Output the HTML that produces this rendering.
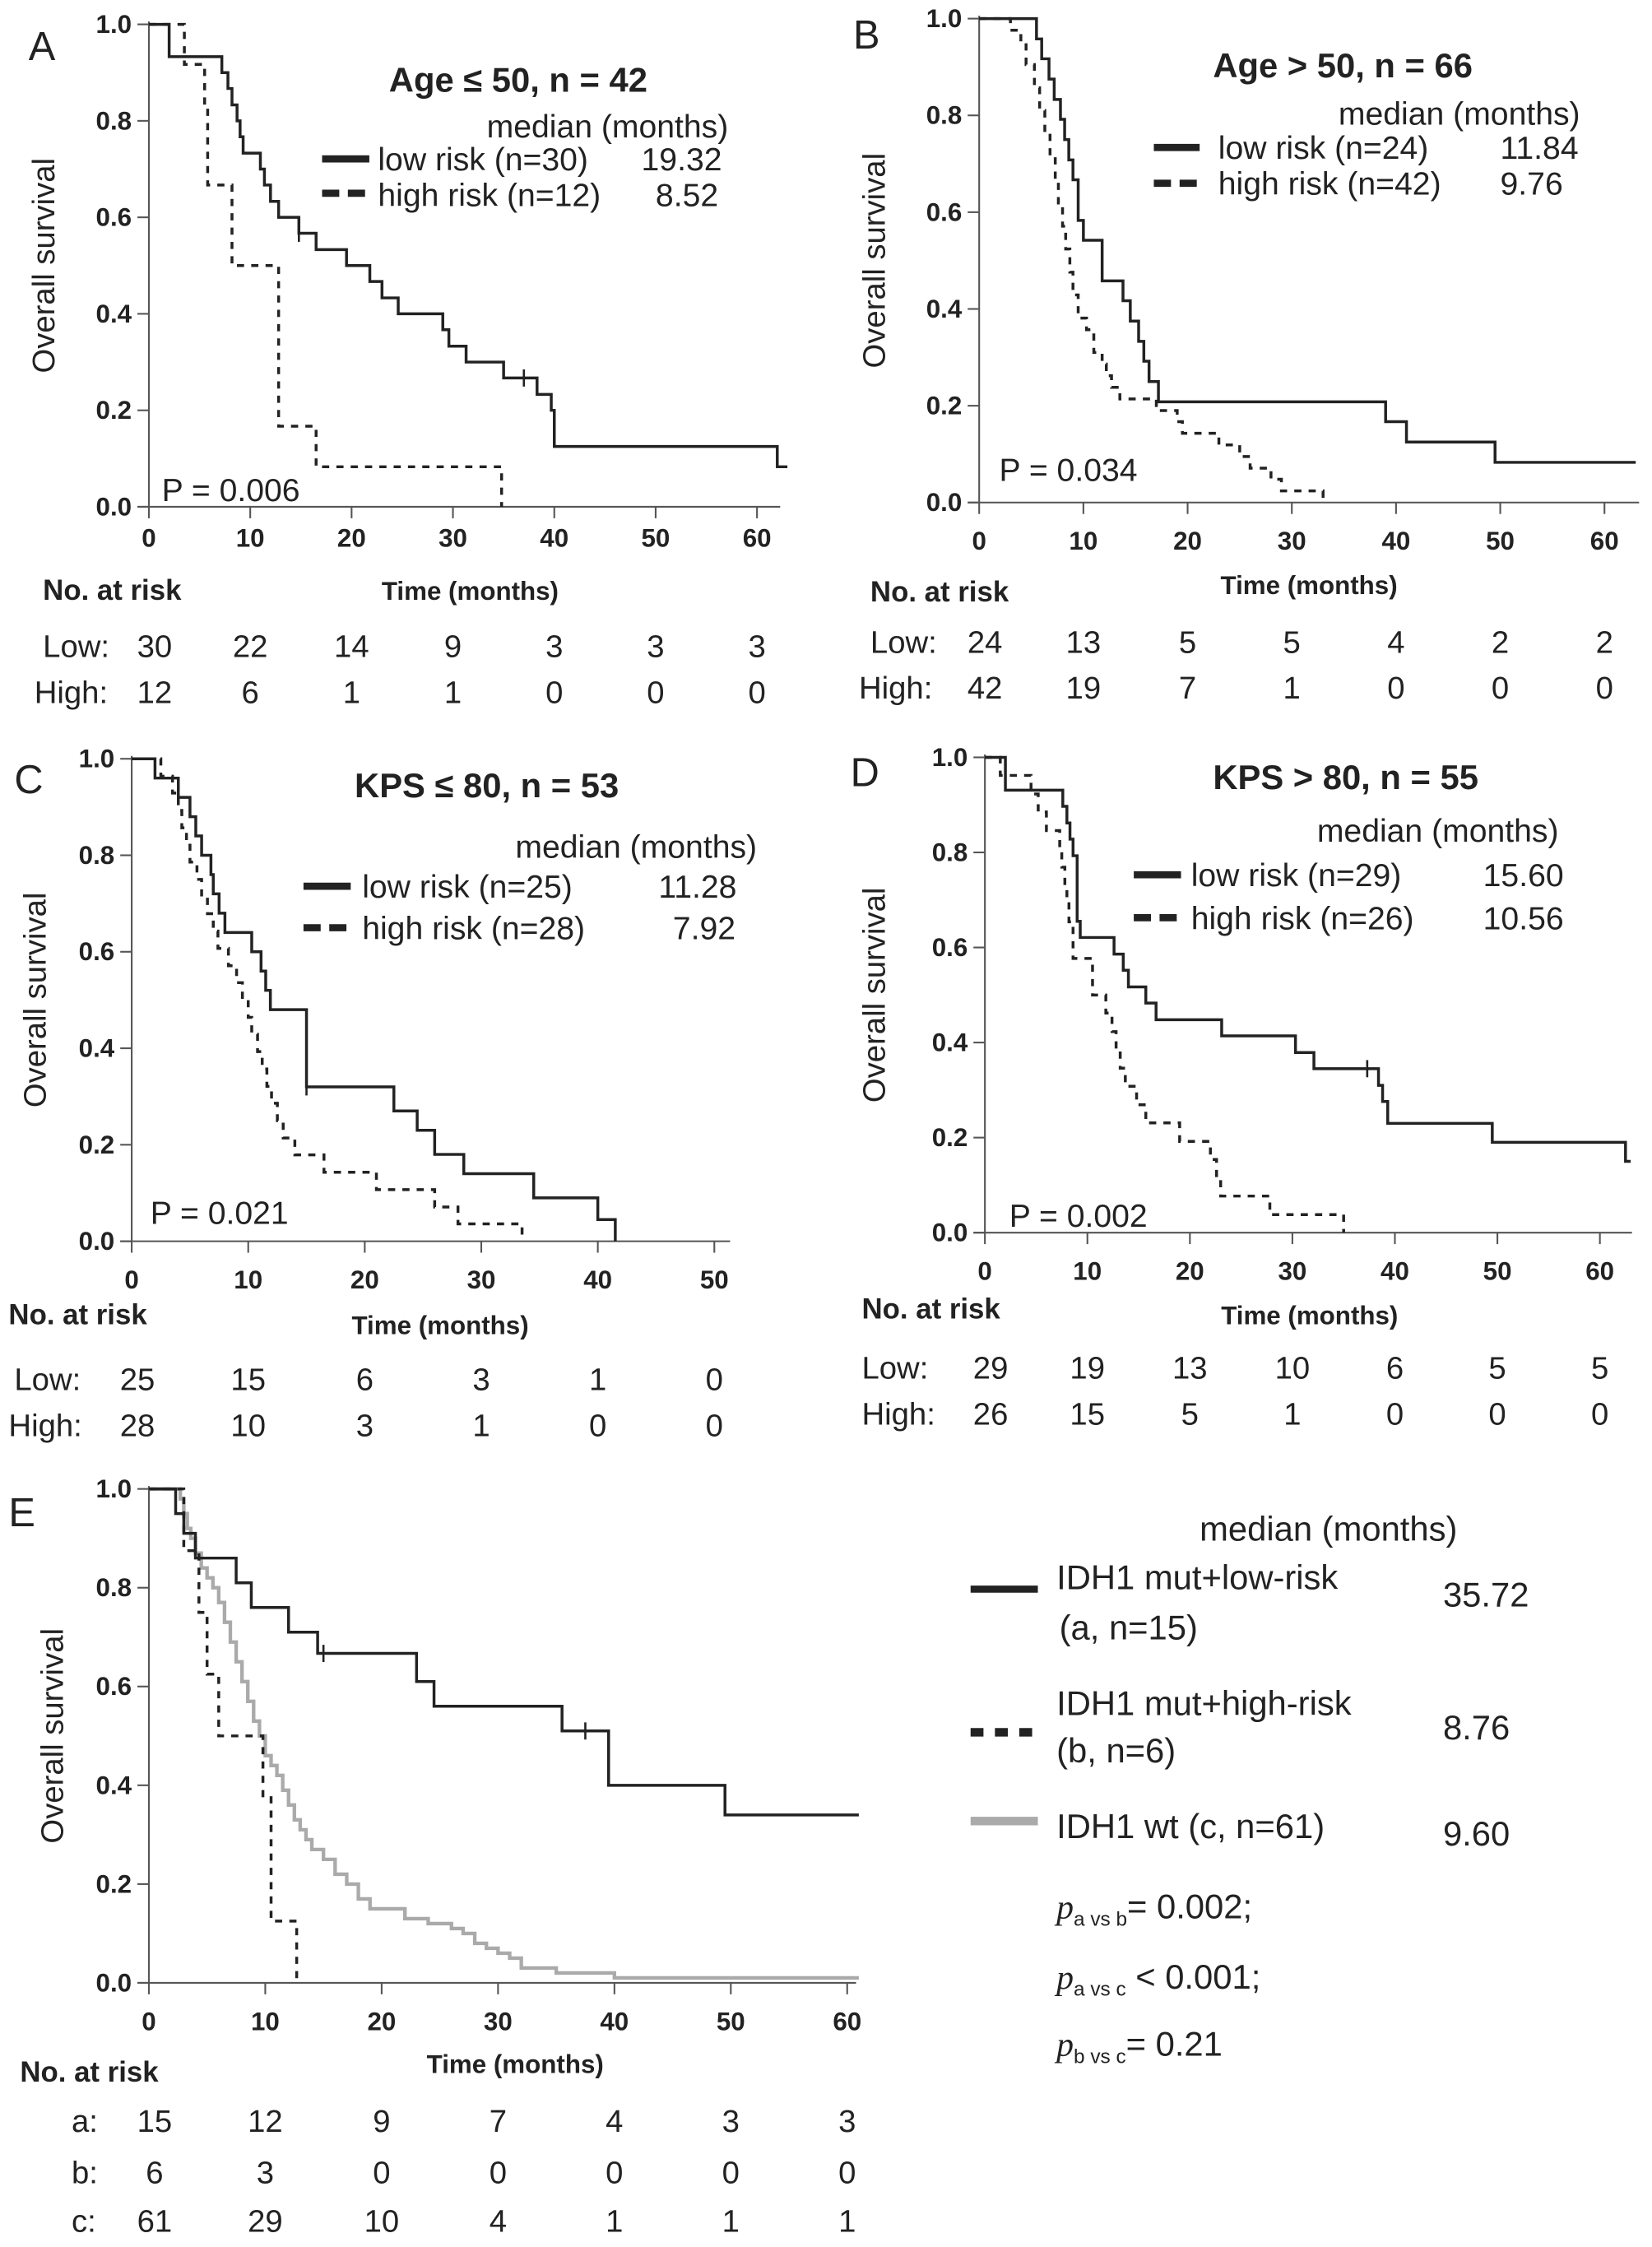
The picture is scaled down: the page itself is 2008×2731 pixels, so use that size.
<!DOCTYPE html>
<html><head><meta charset="utf-8">
<style>
html,body{margin:0;padding:0;background:#fff;}
svg{display:block;}
text{font-family:"Liberation Sans",sans-serif;fill:#222;}
.tick{font-size:18px;font-weight:bold;}
.ttl{font-family:"Liberation Sans Narrow","Liberation Sans",sans-serif;font-weight:bold;font-size:24px;}
.lg{font-size:22.5px;}
.rk{font-size:22px;}
.hd{font-size:18px;font-weight:bold;}
.yt{font-size:22px;}
.let{font-size:28px;}
</style></head>
<body>
<svg id="fig" width="2008" height="2731" viewBox="0 0 1154 1569.5" preserveAspectRatio="none">
<g id="static">
<text class="let" x="20" y="42">A</text>
<text class="ttl" x="362" y="64" text-anchor="middle">Age ≤ 50, n = 42</text>
<text class="lg" x="340" y="96">median (months)</text>
<line x1="225" y1="111" x2="258" y2="111" stroke="#222" stroke-width="5"/>
<text class="lg" x="264" y="119">low risk (n=30)</text>
<text class="lg" x="448" y="119">19.32</text>
<line x1="225" y1="135" x2="258" y2="135" stroke="#222" stroke-width="5" stroke-dasharray="12,6"/>
<text class="lg" x="264" y="144">high risk (n=12)</text>
<text class="lg" x="458" y="144">8.52</text>
<text class="lg" x="113" y="350">P = 0.006</text>

<text class="let" x="596" y="34">B</text>
<text class="ttl" x="938" y="54" text-anchor="middle">Age &gt; 50, n = 66</text>
<text class="lg" x="935" y="87">median (months)</text>
<line x1="806" y1="103" x2="838" y2="103" stroke="#222" stroke-width="5"/>
<text class="lg" x="851" y="111">low risk (n=24)</text>
<text class="lg" x="1048" y="111">11.84</text>
<line x1="806" y1="128" x2="838" y2="128" stroke="#222" stroke-width="5" stroke-dasharray="12,6"/>
<text class="lg" x="851" y="136">high risk (n=42)</text>
<text class="lg" x="1048" y="136">9.76</text>
<text class="lg" x="698" y="336">P = 0.034</text>

<text class="let" x="10" y="554">C</text>
<text class="ttl" x="340" y="557" text-anchor="middle">KPS ≤ 80, n = 53</text>
<text class="lg" x="360" y="599">median (months)</text>
<line x1="212" y1="619" x2="245" y2="619" stroke="#222" stroke-width="5"/>
<text class="lg" x="253" y="627">low risk (n=25)</text>
<text class="lg" x="460" y="627">11.28</text>
<line x1="212" y1="648" x2="245" y2="648" stroke="#222" stroke-width="5" stroke-dasharray="12,6"/>
<text class="lg" x="253" y="656">high risk (n=28)</text>
<text class="lg" x="470" y="656">7.92</text>
<text class="lg" x="105" y="855">P = 0.021</text>

<text class="let" x="594" y="549">D</text>
<text class="ttl" x="940" y="551" text-anchor="middle">KPS &gt; 80, n = 55</text>
<text class="lg" x="920" y="588">median (months)</text>
<line x1="792" y1="611" x2="825" y2="611" stroke="#222" stroke-width="5"/>
<text class="lg" x="832" y="619">low risk (n=29)</text>
<text class="lg" x="1036" y="619">15.60</text>
<line x1="792" y1="641" x2="825" y2="641" stroke="#222" stroke-width="5" stroke-dasharray="12,6"/>
<text class="lg" x="832" y="649">high risk (n=26)</text>
<text class="lg" x="1036" y="649">10.56</text>
<text class="lg" x="705" y="857">P = 0.002</text>

<text class="let" x="6" y="1066">E</text>
<text class="lg" x="838" y="1076" style="font-size:24px">median (months)</text>
<line x1="678" y1="1110" x2="725" y2="1110" stroke="#222" stroke-width="5"/>
<text class="lg" x="738" y="1110" style="font-size:24px">IDH1 mut+low-risk</text>
<text class="lg" x="740" y="1145" style="font-size:24px">(a, n=15)</text>
<text class="lg" x="1008" y="1122" style="font-size:24px">35.72</text>
<line x1="678" y1="1210" x2="725" y2="1210" stroke="#222" stroke-width="6" stroke-dasharray="9,8"/>
<text class="lg" x="738" y="1198" style="font-size:24px">IDH1 mut+high-risk</text>
<text class="lg" x="738" y="1231" style="font-size:24px">(b, n=6)</text>
<text class="lg" x="1008" y="1215" style="font-size:24px">8.76</text>
<line x1="678" y1="1272" x2="725" y2="1272" stroke="#aaa" stroke-width="6"/>
<text class="lg" x="738" y="1284" style="font-size:24px">IDH1 wt (c, n=61)</text>
<text class="lg" x="1008" y="1289" style="font-size:24px">9.60</text>
<text class="lg" x="738" y="1340" style="font-size:24px"><tspan font-style="italic" font-family="Liberation Serif">p</tspan><tspan font-size="14" dy="5">a vs b</tspan><tspan dy="-5">= 0.002;</tspan></text>
<text class="lg" x="738" y="1389" style="font-size:24px"><tspan font-style="italic" font-family="Liberation Serif">p</tspan><tspan font-size="14" dy="5">a vs c</tspan><tspan dy="-5"> &lt; 0.001;</tspan></text>
<text class="lg" x="738" y="1436" style="font-size:24px"><tspan font-style="italic" font-family="Liberation Serif">p</tspan><tspan font-size="14" dy="5">b vs c</tspan><tspan dy="-5">= 0.21</tspan></text>
</g>
</svg>
<script>
// ---- data ----
const riskTicks = [0,10,20,30,40,50,60];
const aLowRisk = [30,22,14,9,3,3,3];
const aHighRisk = [12,6,1,1,0,0,0];
const bLowRisk = [24,13,5,5,4,2,2];
const bHighRisk = [42,19,7,1,0,0,0];
const cLowRisk = [25,15,6,3,1,0];
const cHighRisk = [28,10,3,1,0,0];
const dLowRisk = [29,19,13,10,6,5,5];
const dHighRisk = [26,15,5,1,0,0,0];
const eARisk = [15,12,9,7,4,3,3];
const eBRisk = [6,3,0,0,0,0,0];
const eCRisk = [61,29,10,4,1,1,1];
const yTickLabels = ["0.0","0.2","0.4","0.6","0.8","1.0"];

const aLowT = [2,7.2,7.8,8.2,8.7,9,9.3,11,11.4,12,12.8,14.8,16.5,19.5,21.8,23,24.6,29,29.6,31.3,35,38.3,39.7,40,62];
const aLowS = [0.933,0.9,0.867,0.833,0.8,0.767,0.733,0.7,0.667,0.633,0.6,0.567,0.533,0.5,0.467,0.433,0.4,0.367,0.333,0.3,0.267,0.233,0.2,0.125,0.083];
const aHighT = [3.5,5.5,5.8,8.2,12.8,16.5,34.8];
const aHighS = [0.917,0.833,0.667,0.5,0.167,0.083,0];
const bLowT = [5.5,6,6.7,7.2,7.8,8.2,8.6,9,9.5,10,11.8,13.8,14.5,15.3,15.8,16.3,17.2,39,41,49.5];
const bLowS = [0.958,0.917,0.875,0.833,0.792,0.75,0.708,0.667,0.583,0.542,0.458,0.417,0.375,0.333,0.292,0.25,0.208,0.167,0.125,0.083];
const bHighT = [3,4,4.5,5.3,5.8,6.3,6.8,7.3,7.6,8,8.3,8.7,9,9.5,10.3,11,11.8,12.2,12.7,13.5,17,19,19.5,23,25,26,28,29,33];
const bHighS = [0.976,0.952,0.905,0.857,0.81,0.762,0.714,0.667,0.619,0.571,0.524,0.476,0.429,0.381,0.357,0.31,0.286,0.262,0.238,0.214,0.19,0.167,0.143,0.119,0.095,0.071,0.048,0.024,0];
const cLowT = [2,4,5,5.5,6,6.8,7,7.5,8,10.3,11.1,11.5,11.9,15,22.5,24.5,26,28.5,34.5,40,41.5];
const cLowS = [0.96,0.92,0.88,0.84,0.8,0.76,0.72,0.68,0.64,0.6,0.56,0.52,0.48,0.32,0.27,0.23,0.18,0.14,0.09,0.045,0];
const cHighT = [2.5,3.5,4,4.3,4.7,5,5.6,6,6.5,7,7.4,8.3,9,9.5,10,10.3,10.8,11.2,11.6,12,12.5,13,14,16.5,21,26,28,33.5];
const cHighS = [0.964,0.929,0.893,0.857,0.821,0.786,0.75,0.714,0.679,0.643,0.607,0.571,0.536,0.5,0.464,0.429,0.393,0.357,0.321,0.286,0.25,0.214,0.179,0.143,0.107,0.071,0.036,0];
const dLowT = [2,7.6,8,8.3,8.6,9,9.3,12.6,13.5,14,15.7,16.7,23.1,30.3,32.1,38.4,38.8,39.3,49.5,62.5];
const dLowS = [0.966,0.931,0.897,0.862,0.828,0.793,0.655,0.621,0.586,0.552,0.517,0.483,0.448,0.414,0.379,0.345,0.31,0.276,0.23,0.19,0.15].slice(1);
const dHighT = [1.5,4.5,5.2,6,7.3,7.5,7.8,8,8.2,8.6,10.5,11.8,12.4,12.8,13.2,13.7,14.8,15.7,19,22,22.6,23,27.8,35];
const dHighS = [0.962,0.923,0.885,0.846,0.808,0.769,0.731,0.692,0.654,0.577,0.5,0.462,0.423,0.385,0.346,0.308,0.269,0.231,0.192,0.154,0.115,0.077,0.038,0];
const eAT = [2.3,3,4,7.5,8.8,12,14.5,23,24.5,35.5,39.5,49.5];
const eAS = [0.95,0.91,0.86,0.81,0.76,0.71,0.667,0.61,0.56,0.51,0.4,0.34];
const eBT = [3,4.3,5,6,8.8,9.8,10.5,12.7];
const eBS = [0.875,0.75,0.625,0.5,0.5,0.375,0.125,0];
const eCT = [2.7,3,3.3,3.6,4,4.5,5,5.5,6,6.5,7,7.5,8,8.5,9,9.5,10,10.5,11,11.5,12,12.5,13,13.5,14,15,16,17,18,19,22,24,26,27,28,29,30,31,32,35,40];
const eCS = [0.98,0.95,0.92,0.9,0.87,0.84,0.82,0.8,0.77,0.73,0.69,0.65,0.61,0.57,0.53,0.5,0.46,0.44,0.42,0.39,0.36,0.33,0.31,0.29,0.27,0.25,0.22,0.2,0.17,0.15,0.13,0.12,0.11,0.1,0.08,0.07,0.06,0.05,0.03,0.02,0.01];

// ---- layout ----
const NS = "http://www.w3.org/2000/svg";
const svg = document.getElementById('fig');
function el(tag, attrs, parent){const e=document.createElementNS(NS,tag);for(const k in attrs)e.setAttribute(k,attrs[k]);(parent||svg).appendChild(e);return e;}

const panels = [
 {id:'a', x0:104, px:7.08, y1:17, y0:354, xEnd:545, xMax:60, tickY:382, ytX:38, timeY:419, riskHeadX:30, riskHeadY:419, rowY:[459,491], rowLbl:['Low:','High:'], lblX:[30,24],
  series:[{t:aLowT,s:aLowS,end:63,dash:null,col:'#222',cens:[[14.8,0.567],[37,0.267]]},{t:aHighT,s:aHighS,end:34.8,dash:'5,5',col:'#222',cens:[]}], risk:[aLowRisk,aHighRisk]},
 {id:'b', x0:684, px:7.28, y1:13, y0:351, xEnd:1145, xMax:60, tickY:384, ytX:618, timeY:415, riskHeadX:608, riskHeadY:420, rowY:[456,488], rowLbl:['Low:','High:'], lblX:[608,600],
  series:[{t:bLowT,s:bLowS,end:63,dash:null,col:'#222',cens:[]},{t:bHighT,s:bHighS,end:33,dash:'5,5',col:'#222',cens:[]}], risk:[bLowRisk,bHighRisk]},
 {id:'c', x0:92, px:8.14, y1:530, y0:867, xEnd:510, xMax:50, tickY:900, ytX:32, timeY:932, riskHeadX:6, riskHeadY:925, rowY:[971,1003], rowLbl:['Low:','High:'], lblX:[10,6],
  series:[{t:cLowT,s:cLowS,end:41.5,dash:null,col:'#222',cens:[[15,0.32]]},{t:cHighT,s:cHighS,end:33.5,dash:'5,5',col:'#222',cens:[]}], risk:[cLowRisk,cHighRisk]},
 {id:'d', x0:688, px:7.16, y1:529, y0:861, xEnd:1140, xMax:60, tickY:894, ytX:618, timeY:925, riskHeadX:602, riskHeadY:921, rowY:[963,995], rowLbl:['Low:','High:'], lblX:[602,602],
  series:[{t:dLowT,s:dLowS,end:63,dash:null,col:'#222',cens:[[37.3,0.345]]},{t:dHighT,s:dHighS,end:35,dash:'5,5',col:'#222',cens:[]}], risk:[dLowRisk,dHighRisk]},
 {id:'e', x0:104, px:8.13, y1:1040, y0:1385, xEnd:598, xMax:60, tickY:1418, ytX:44, timeY:1448, riskHeadX:14, riskHeadY:1454, rowY:[1489,1525,1559], rowLbl:['a:','b:','c:'], lblX:[50,50,50],
  series:[{t:eCT,s:eCS,end:61,dash:null,col:'#aaa',w:2.5,cens:[]},{t:eAT,s:eAS,end:61,dash:null,col:'#222',cens:[[15,0.667],[37.5,0.51]]},{t:eBT,s:eBS,end:12.7,dash:'5,5',col:'#222',cens:[]}], risk:[eARisk,eBRisk,eCRisk]}
];

panels.forEach(p=>{
  const X=t=>p.x0+t*p.px, Y=s=>p.y0-(p.y0-p.y1)*s;
  const g=el('g',{});
  
  
  const ya=el('line',{x1:p.x0,y1:p.y1-2,x2:p.x0,y2:p.y0,stroke:'#555','stroke-width':1.2},g);
  
  
  const xa=el('line',{x1:p.x0-8,y1:p.y0,x2:p.xEnd,y2:p.y0,stroke:'#555','stroke-width':1.2},g);
  
  
  yTickLabels.forEach((lb,i)=>{
    const v=i*0.2;
    el('line',{x1:p.x0-8,y1:Y(v),x2:p.x0,y2:Y(v),stroke:'#555','stroke-width':1.2},g);
    const t=el('text',{x:p.x0-12,y:Y(v)+6,'text-anchor':'end',class:'tick'},g);
    
    
    t.textContent=lb;
  });
  for(let v=0;v<=p.xMax;v+=10){
    el('line',{x1:X(v),y1:p.y0,x2:X(v),y2:p.y0+8,stroke:'#555','stroke-width':1.2},g);
    const t=el('text',{x:X(v),y:p.tickY,'text-anchor':'middle',class:'tick'},g);
    
    
    t.textContent=v;
  }
  const yt=el('text',{x:p.ytX,y:(p.y0+p.y1)/2,'text-anchor':'middle',class:'yt',transform:`rotate(-90 ${p.ytX} ${(p.y0+p.y1)/2})`},g);
  
  
  yt.textContent='Overall survival';
  const xt=el('text',{x:(p.x0+X(p.xMax))/2+12,y:p.timeY,'text-anchor':'middle',class:'tick'},g);
  
  
  xt.textContent='Time (months)';
  const rh=el('text',{x:p.riskHeadX,y:p.riskHeadY,class:'hd',style:'font-size:20px'},g);
  
  
  rh.textContent='No. at risk';
  p.series.forEach((s,si)=>{
    let d=`M${X(0)},${Y(1)}`;
    s.t.forEach((t,i)=>{d+=` H${X(t)} V${Y(s.s[i])}`;});
    const last=s.t[s.t.length-1];
    if(s.end>last) d+=` H${X(s.end)}`;
    const path=el('path',{d:d,fill:'none',stroke:s.col,'stroke-width':s.w||2},g);
    if(s.dash) path.setAttribute('stroke-dasharray',s.dash);
    
    
    s.cens.forEach(c=>{
      const m=el('line',{x1:X(c[0]),y1:Y(c[1])-6,x2:X(c[0]),y2:Y(c[1])+6,stroke:s.col,'stroke-width':1.5},g);
      
      
    });
  });
  p.risk.forEach((row,ri)=>{
    const l=el('text',{x:p.lblX[ri],y:p.rowY[ri],class:'rk'},g);
    
    
    l.textContent=p.rowLbl[ri];
    row.forEach((n,ci)=>{
      const t=el('text',{x:X(riskTicks[ci])+(ci===0?4:0),y:p.rowY[ri],'text-anchor':'middle',class:'rk'},g);
      
      
      t.textContent=n;
    });
  });
});
</script>
</body></html>
